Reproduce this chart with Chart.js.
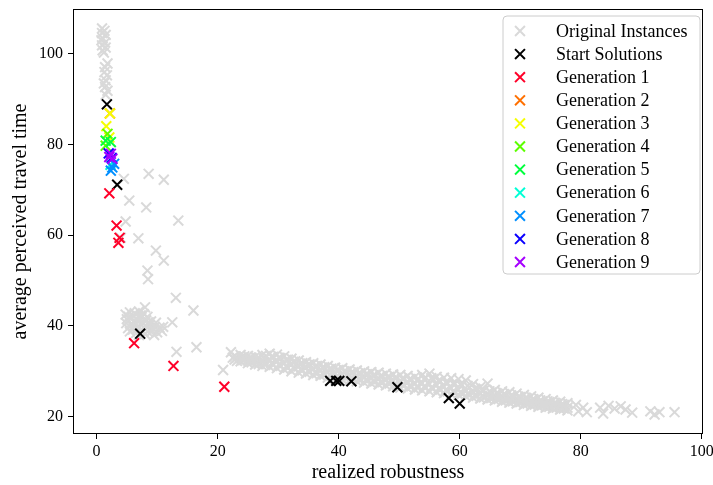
<!DOCTYPE html>
<html><head><meta charset="utf-8">
<script src="https://cdn.jsdelivr.net/npm/chart.js@4.4.1/dist/chart.umd.min.js"></script>
<style>html,body{margin:0;padding:0;background:#fff;}#wrap{width:713px;height:485px;position:relative;}</style>
</head><body><div id="wrap"><canvas id="c" width="713" height="485"></canvas></div>
<script>
const seriesLabels = ["Original Instances","Start Solutions","Generation 1","Generation 2","Generation 3","Generation 4","Generation 5","Generation 6","Generation 7","Generation 8","Generation 9"];
const seriesColors = ["#d9d9d9","#000000","#ff0029","#ff7000","#f5ff00","#5cff00","#00ff3d","#00ffd6","#008fff","#0b00ff","#a500ff"];
const xTicks = [0,20,40,60,80,100];
const yTicks = [20,40,60,80,100];

const originalInstances = [
 [0.9,105.5],[1.3,105.0],[0.9,104.5],[1.5,104.1],[1.0,103.4],[0.8,102.9],[1.4,102.4],[0.9,101.8],[1.5,101.3],[1.0,100.7],[1.2,100.2],
 [1.8,97.8],[1.4,97.0],[1.3,95.9],[1.7,95.2],[1.5,94.1],[1.2,93.4],[1.4,92.6],[1.8,91.8],[1.5,90.9],
 [4.5,72.4],[8.6,73.5],[11.1,72.2],[5.4,67.6],[8.2,66.1],[4.8,63.0],[13.5,63.2],[6.9,59.3],[4.0,59.4],[9.8,56.6],[11.1,54.4],
 [8.4,52.2],[8.5,50.3],[13.1,46.2],[16.0,43.4],[8.0,44.1],[12.5,40.8],[13.2,34.3],[16.5,35.3],[22.2,34.2],[20.9,30.3],
 [4.8,42.5],[5.5,43.0],[6.3,42.8],[7.0,43.2],[7.8,42.6],[8.4,42.0],[5.0,41.5],[5.8,41.8],[6.6,41.6],[7.4,41.9],[8.2,41.2],[9.0,41.0],
 [4.9,40.6],[5.6,40.3],[6.4,40.7],[7.2,40.4],[8.0,40.1],[8.8,40.2],[9.6,39.8],[10.4,39.6],[5.2,39.5],[6.0,39.2],[6.8,39.4],[7.6,39.0],
 [8.4,38.8],[9.2,38.9],[10.0,38.6],[10.8,38.9],[6.5,38.4],[8.0,38.2],[9.5,38.0],[7.3,42.3],[6.0,42.2],[9.8,40.7],[11.0,39.8],[7.0,38.0],
 [5.3,42.0],[6.9,42.1],[8.6,40.8],[7.7,40.6],[6.2,40.0],[9.3,39.4],[7.0,39.8],[5.5,38.8],
 [22.8,33.3],[22.8,32.6],[23.8,33.6],[23.8,32.9],[23.8,32.2],[25.0,33.4],[25.0,32.5],[25.0,31.8],[26.2,33.2],[26.2,32.3],[26.2,31.5],
 [27.4,33.6],[27.4,32.0],[27.4,31.2],[28.6,33.9],[28.6,32.6],[28.6,31.0],[29.8,33.7],[29.8,32.2],[29.8,30.7],[31.0,33.3],[31.0,31.8],[31.0,30.4],
 [32.2,32.8],[32.2,31.5],[32.2,30.0],[33.4,32.4],[33.4,31.1],[33.4,29.7],[34.6,32.0],[34.6,30.8],[34.6,29.5],[35.8,31.8],[35.8,30.5],[35.8,29.2],
 [37.0,31.5],[37.0,30.2],[37.0,29.0],[38.2,31.2],[38.2,29.8],[38.2,28.6],[39.4,30.8],[39.4,29.6],[39.4,28.4],[40.6,30.7],[40.6,29.3],[40.6,28.2],
 [41.8,30.4],[41.8,29.1],[41.8,28.0],[43.0,30.2],[43.0,28.9],[43.0,27.8],[44.2,30.0],[44.2,28.7],[44.2,27.5],[45.4,29.8],[45.4,28.5],[45.4,27.3],
 [46.6,29.7],[46.6,28.3],[46.6,27.1],[47.8,29.5],[47.8,28.1],[47.8,26.9],[49.0,29.3],[49.0,27.9],[49.0,26.7],[50.2,29.2],[50.2,27.7],[50.2,26.4],
 [51.4,29.0],[51.4,27.5],[51.4,26.2],[52.6,28.8],[52.6,27.3],[52.6,26.0],[53.8,29.2],[53.8,27.4],[53.8,25.8],[55.0,29.5],[55.0,27.2],[55.0,25.6],
 [56.2,28.8],[56.2,27.0],[56.2,25.4],[57.4,28.6],[57.4,26.6],[57.4,25.2],[58.6,28.5],[58.6,26.3],[58.6,25.0],[59.8,28.3],[59.8,26.0],[59.8,24.8],
 [61.0,28.0],[61.0,25.6],[61.0,24.5],[62.2,27.2],[62.2,25.4],[62.2,24.2],[63.4,26.5],[63.4,25.1],[63.4,24.0],[64.6,27.3],[64.6,24.8],[64.6,23.8],
 [65.8,25.9],[65.8,24.5],[65.8,23.6],[67.0,25.6],[67.0,24.3],[67.0,23.3],[68.2,25.4],[68.2,24.0],[68.2,23.1],[69.4,25.1],[69.4,23.8],[69.4,22.9],
 [70.6,24.8],[70.6,23.5],[70.6,22.6],[71.8,24.5],[71.8,23.3],[71.8,22.4],[73.0,24.2],[73.0,23.0],[73.0,22.2],[74.2,23.9],[74.2,22.8],[74.2,22.0],
 [75.4,23.6],[75.4,22.5],[75.4,21.8],[76.6,23.3],[76.6,22.3],[76.6,21.6],[77.8,23.0],[77.8,22.0],[77.8,21.4],
 [23.2,33.0],[23.2,32.3],[24.4,33.3],[24.4,32.5],[25.6,33.0],[25.6,32.0],[26.8,33.0],[26.8,31.6],[28.0,33.4],[28.0,31.6],[29.2,33.2],[29.2,31.4],
 [30.4,32.9],[30.4,31.2],[31.6,32.6],[31.6,30.8],[32.8,32.2],[32.8,30.6],[34.0,31.8],[34.0,30.2],[35.2,31.5],[35.2,29.9],[36.4,31.2],[36.4,29.6],
 [37.6,30.9],[37.6,29.3],[38.8,30.6],[38.8,29.0],[40.0,30.3],[40.0,28.7],[41.2,30.0],[41.2,28.6],[42.4,29.8],[42.4,28.4],[43.6,29.6],[43.6,28.2],
 [44.8,29.4],[44.8,28.0],[46.0,29.2],[46.0,27.8],[47.2,29.0],[47.2,27.6],[48.4,28.8],[48.4,27.3],[49.6,28.6],[49.6,27.1],[50.8,28.4],[50.8,26.9],
 [52.0,28.2],[52.0,26.7],[53.2,28.3],[53.2,26.5],[54.4,28.6],[54.4,26.4],[55.6,28.3],[55.6,26.2],[56.8,27.8],[56.8,26.0],[58.0,27.4],[58.0,25.6],
 [59.2,27.3],[59.2,25.4],[60.4,27.0],[60.4,25.1],[61.6,26.4],[61.6,24.9],[62.8,26.0],[62.8,24.6],[64.0,25.8],[64.0,24.3],[65.2,25.3],[65.2,24.1],
 [66.4,25.0],[66.4,23.9],[67.6,24.8],[67.6,23.6],[68.8,24.5],[68.8,23.4],[70.0,24.3],[70.0,23.2],[71.2,24.0],[71.2,22.9],[72.4,23.7],[72.4,22.7],
 [73.6,23.4],[73.6,22.5],[74.8,23.2],[74.8,22.2],[76.0,22.9],[76.0,22.0],[77.2,22.6],[77.2,21.8],
 [22.5,33.0],[24.1,33.0],[24.1,32.5],[25.3,32.9],[25.3,32.2],[26.5,32.8],[26.5,31.9],[27.7,32.8],[27.7,31.8],[28.9,33.2],[28.9,31.8],
 [30.1,33.0],[30.1,31.5],[31.3,32.5],[31.3,31.1],[32.5,32.1],[32.5,30.8],[33.7,31.7],[33.7,30.4],[34.9,31.4],[34.9,30.1],[36.1,31.1],[36.1,29.8],
 [37.3,30.8],[37.3,29.6],[38.5,30.5],[38.5,29.2],[39.7,30.2],[39.7,29.0],[40.9,30.0],[40.9,28.8],[42.1,29.7],[42.1,28.5],[43.3,29.5],[43.3,28.3],
 [44.5,29.3],[44.5,28.1],[45.7,29.1],[45.7,27.9],[46.9,28.9],[46.9,27.7],[48.1,28.7],[48.1,27.5],[49.3,28.5],[49.3,27.3],[50.5,28.4],[50.5,27.0],
 [51.7,28.2],[51.7,26.8],[52.9,28.0],[52.9,26.6],[54.1,28.3],[54.1,26.6],[55.3,28.5],[55.3,26.4],[56.5,27.9],[56.5,26.2],[57.7,27.6],[57.7,25.9],
 [58.9,27.3],[58.9,25.6],[60.1,27.1],[60.1,25.4],[61.3,26.8],[61.3,25.1],[62.5,26.2],[62.5,24.8],[63.7,25.8],[63.7,24.6],[64.9,25.6],[64.9,24.3],
 [66.1,25.2],[66.1,24.0],[67.3,25.0],[67.3,23.8],[68.5,24.7],[68.5,23.6],[69.7,24.4],[69.7,23.3],[70.9,24.2],[70.9,23.0],[72.1,23.9],[72.1,22.8],
 [73.3,23.6],[73.3,22.6],[74.5,23.4],[74.5,22.4],[75.7,23.1],[75.7,22.2],[76.9,22.8],[76.9,22.0],
 [79.2,22.6],[79.6,21.2],[80.4,22.0],[81.0,21.0],[83.2,22.0],[83.7,20.7],[84.6,22.4],[85.6,21.8],[86.6,22.3],[87.4,21.6],[88.5,20.9],
 [91.5,21.2],[92.2,20.5],[93.0,21.0],[95.5,21.0]
];
const startSolutions = [[1.7,88.8],[3.4,71.1],[7.2,38.3],[38.6,27.9],[39.6,27.9],[40.1,27.9],[42.1,27.8],[49.7,26.5],[58.2,24.1],[60.0,22.9]];
const generation1 = [[2.1,69.2],[3.3,62.1],[3.8,59.4],[3.6,58.3],[6.2,36.2],[12.7,31.2],[21.1,26.6]];
const generation2 = [[2.2,86.8]];
const generation3 = [[2.2,86.8],[1.6,84.0],[2.1,81.5]];
const generation4 = [[1.8,82.3],[1.5,79.7]];
const generation5 = [[1.5,80.8],[2.35,80.5]];
const generation6 = [[2.3,75.5]];
const generation7 = [[2.6,74.9],[2.35,74.2],[2.9,75.7]];
const generation8 = [[2.0,78.0],[2.5,77.0]];
const generation9 = [[2.35,77.9],[2.6,76.8],[2.1,77.2]];

const allSeries = [originalInstances,startSolutions,generation1,generation2,generation3,generation4,generation5,generation6,generation7,generation8,generation9];
const FONT = "'Liberation Serif', 'DejaVu Serif', serif";
const MARK_R = 7;

const datasets = allSeries.map((s, i) => ({
  label: seriesLabels[i],
  data: s.map(p => ({x: p[0], y: p[1]})),
  pointStyle: 'crossRot',
  pointRadius: MARK_R,
  pointBorderWidth: 2,
  borderColor: seriesColors[i],
  backgroundColor: seriesColors[i],
  order: 100 - i
}));

function zeroPad(s) { s.paddingLeft = 0; s.paddingRight = 0; s.paddingTop = 0; s.paddingBottom = 0; }

const framePlugin = {
  id: 'frameAndLegend',
  afterDraw(chart) {
    const ctx = chart.ctx, a = chart.chartArea;
    ctx.save();
    ctx.strokeStyle = '#000'; ctx.lineWidth = 1;
    ctx.strokeRect(Math.round(a.left) + 0.5, Math.round(a.top) + 0.5, Math.round(a.right - a.left) - 1, Math.round(a.bottom - a.top) - 1);
    const w = 197, h = 258, rowH = 23.1;
    const x0 = a.right - 3 - w, y0 = a.top + 7;
    const r = 4;
    ctx.beginPath();
    ctx.moveTo(x0 + r, y0); ctx.lineTo(x0 + w - r, y0); ctx.arcTo(x0 + w, y0, x0 + w, y0 + r, r);
    ctx.lineTo(x0 + w, y0 + h - r); ctx.arcTo(x0 + w, y0 + h, x0 + w - r, y0 + h, r);
    ctx.lineTo(x0 + r, y0 + h); ctx.arcTo(x0, y0 + h, x0, y0 + h - r, r);
    ctx.lineTo(x0, y0 + r); ctx.arcTo(x0, y0, x0 + r, y0, r); ctx.closePath();
    ctx.fillStyle = 'rgba(255,255,255,0.8)'; ctx.fill();
    ctx.strokeStyle = '#cccccc'; ctx.lineWidth = 1; ctx.stroke();
    ctx.font = "18px " + FONT; ctx.textBaseline = 'middle'; ctx.textAlign = 'left';
    const d = MARK_R * Math.SQRT1_2;
    seriesLabels.forEach((lab, i) => {
      const cy = y0 + 15 + i * rowH, cx = x0 + 17;
      ctx.strokeStyle = seriesColors[i]; ctx.lineWidth = 2;
      ctx.beginPath(); ctx.moveTo(cx - d, cy - d); ctx.lineTo(cx + d, cy + d);
      ctx.moveTo(cx + d, cy - d); ctx.lineTo(cx - d, cy + d); ctx.stroke();
      ctx.fillStyle = '#000';
      ctx.fillText(lab, x0 + 53, cy + 1);
    });
    ctx.restore();
  }
};

new Chart(document.getElementById('c'), {
  type: 'scatter',
  data: { datasets },
  options: {
    responsive: false, devicePixelRatio: 1, animation: false, events: [],
    layout: { padding: { top: 8, right: 10, left: 0, bottom: 0 } },
    plugins: { legend: { display: false }, tooltip: { enabled: false } },
    scales: {
      x: {
        type: 'linear', min: -3.9, max: 100.2,
        afterBuildTicks(s) { s.ticks = xTicks.map(v => ({ value: v })); },
        afterFit(s) { s.height = 51; zeroPad(s); },
        ticks: { color: '#000', font: { family: FONT, size: 16 }, padding: 3, maxRotation: 0 },
        grid: { drawOnChartArea: false, drawTicks: true, tickLength: 5, tickColor: '#000', tickWidth: 1 },
        border: { display: false },
        title: { display: true, text: 'realized robustness', color: '#000', font: { family: FONT, size: 20 }, padding: { top: 0, bottom: 0 } }
      },
      y: {
        type: 'linear', min: 16.2, max: 109.8,
        afterBuildTicks(s) { s.ticks = yTicks.map(v => ({ value: v })); },
        afterFit(s) { s.width = 73; zeroPad(s); },
        ticks: { color: '#000', font: { family: FONT, size: 16 }, padding: 5 },
        grid: { drawOnChartArea: false, drawTicks: true, tickLength: 5, tickColor: '#000', tickWidth: 1 },
        border: { display: false },
        title: { display: true, text: 'average perceived travel time', color: '#000', font: { family: FONT, size: 20 }, padding: { top: 9, bottom: 0 } }
      }
    }
  },
  plugins: [framePlugin]
});
</script></body></html>
